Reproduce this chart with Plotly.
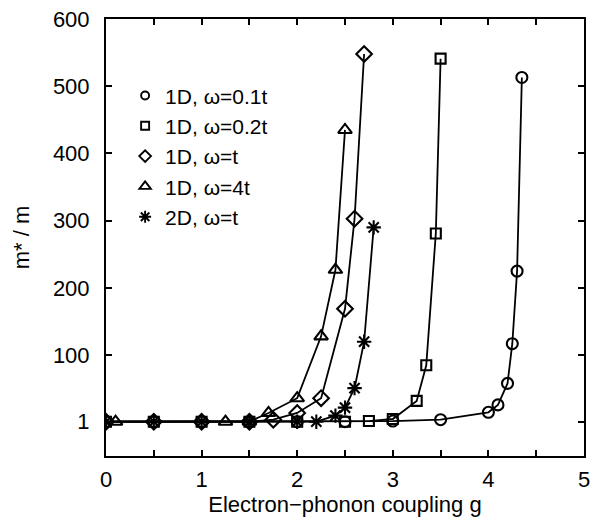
import plotly.graph_objects as go

# ---- data ----
g_w01 = [0, 0.5, 1, 1.5, 2, 2.5, 3, 3.5, 4.0, 4.1, 4.2, 4.25, 4.3, 4.35]
m_w01 = [1, 1, 1, 1, 1, 1, 2, 4, 15, 26, 58, 117, 225, 513]

g_w02 = [0, 0.5, 1, 1.5, 2, 2.5, 2.75, 3.0, 3.25, 3.35, 3.45, 3.5]
m_w02 = [1, 1, 1, 1, 1, 1, 2, 5, 32, 85, 281, 541]

g_w1 = [0, 0.5, 1, 1.5, 1.75, 2.0, 2.25, 2.5, 2.6, 2.7]
m_w1 = [1, 1, 1, 1, 4, 14, 36, 169, 303, 548]

g_w4 = [0.1, 1.25, 1.5, 1.7, 2.0, 2.25, 2.4, 2.5]
m_w4 = [1, 1, 1, 14, 36, 128, 227, 435]

g_2d = [0, 0.5, 1, 1.5, 2, 2.2, 2.4, 2.5, 2.6, 2.7, 2.8]
m_2d = [1, 1, 1, 1, 1, 1, 10, 22, 51, 120, 290]

names = ["1D, ω=0.1t", "1D, ω=0.2t", "1D, ω=t", "1D, ω=4t", "2D, ω=t"]
xs = [g_w01, g_w02, g_w1, g_w4, g_2d]
ys = [m_w01, m_w02, m_w1, m_w4, m_2d]
symbols = ["circle-open", "square-open", "diamond-open", "triangle-up-open", "asterisk-open"]
sizes = [11, 10, 12, 12, 12]
leg_sizes = [8, 8, 9, 10, 10]

x_tickvals = [0, 0.5, 1, 1.5, 2, 2.5, 3, 3.5, 4, 4.5, 5]
x_ticktext = ["0", "", "1", "", "2", "", "3", "", "4", "", "5"]
y_tickvals = [1, 100, 200, 300, 400, 500, 600]
y_ticktext = ["1", "100", "200", "300", "400", "500", "600"]

FONT = "Liberation Sans, Arial, sans-serif"

fig = go.Figure()
for x, y, s, sz in zip(xs, ys, symbols, sizes):
    fig.add_trace(go.Scatter(
        x=x, y=y, mode="lines+markers", showlegend=False,
        line=dict(color="black", width=1.8),
        marker=dict(symbol=s, size=sz, color="black", line=dict(color="black", width=2.1)),
    ))
for n, s, sz in zip(names, symbols, leg_sizes):
    fig.add_trace(go.Scatter(
        x=[None], y=[None], mode="markers", name=n,
        marker=dict(symbol=s, size=sz, color="black", line=dict(color="black", width=1.9)),
    ))

axis_common = dict(
    showline=True, linecolor="black", linewidth=2, mirror="ticks",
    ticks="inside", ticklen=6, tickwidth=1.5, tickcolor="black",
    showgrid=False, zeroline=False, automargin=False,
    tickfont=dict(family=FONT, size=22, color="black"),
)

fig.update_layout(
    width=600, height=520,
    margin=dict(l=106, r=16, t=19, b=64),
    paper_bgcolor="white", plot_bgcolor="white",
    font=dict(family=FONT, size=22, color="black"),
    xaxis=dict(range=[0, 5], tickvals=x_tickvals, ticktext=x_ticktext,
               ticklabelstandoff=3,
               title=dict(text="Electron−phonon coupling g", font=dict(family=FONT, size=22), standoff=3),
               **axis_common),
    yaxis=dict(range=[-50, 600], tickvals=y_tickvals, ticktext=y_ticktext,
               ticklabelstandoff=10,
               title=dict(text="m* / m", font=dict(family=FONT, size=22), standoff=17),
               **axis_common),
    legend=dict(x=0.04, y=0.871, xanchor="left", yanchor="top",
                bgcolor="rgba(0,0,0,0)", borderwidth=0,
                font=dict(family=FONT, size=21, color="black"),
                itemwidth=30, tracegroupgap=0),
    showlegend=True,
)

fig.write_html("out.html")
